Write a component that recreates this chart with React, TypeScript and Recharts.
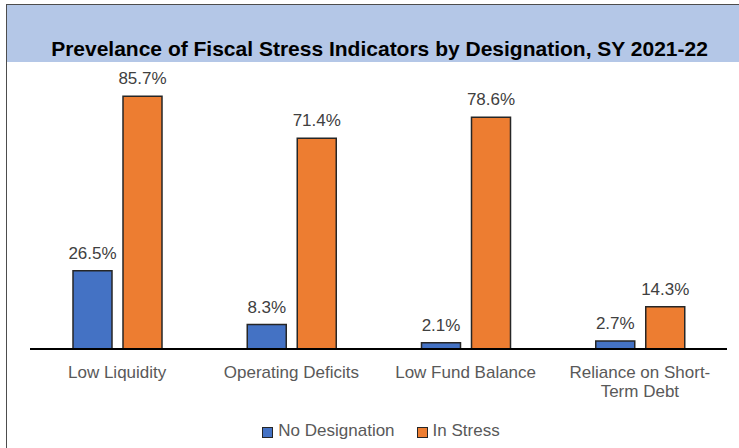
import { BarChart, Bar, XAxis, YAxis, Legend, LabelList } from 'recharts';

const categories = ['Low Liquidity', 'Operating Deficits', 'Low Fund Balance', 'Reliance on Short-Term Debt'];
const noDesignation = [26.5, 8.3, 2.1, 2.7];
const inStress = [85.7, 71.4, 78.6, 14.3];
const seriesNames = ['No Designation', 'In Stress'];

const BLUE = '#4472c4';
const ORANGE = '#ed7d31';
const FONT = '"Liberation Sans", Arial, sans-serif';

const data = categories.map((c, i) => ({
  category: c,
  noDesignation: noDesignation[i],
  inStress: inStress[i],
}));

// long labels break after the hyphen, like the original
function splitLabel(s: string): string[] {
  const h = s.indexOf('-');
  if (s.length > 20 && h > 0) return [s.slice(0, h + 1), s.slice(h + 1)];
  return [s];
}

function CategoryTick({ x, y, payload }: any) {
  const lines = splitLabel(String(payload.value));
  return (
    <text x={x} y={y} textAnchor="middle" fill="#595959" fontSize={17} fontFamily={FONT}>
      {lines.map((l, i) => (
        <tspan key={i} x={x} dy={i === 0 ? 21 : 19}>{l}</tspan>
      ))}
    </text>
  );
}

function LegendBox({ payload }: any) {
  const items = [...(payload || [])].sort(
    (a: any, b: any) => seriesNames.indexOf(a.value) - seriesNames.indexOf(b.value)
  );
  return (
    <div style={{display:'flex', justifyContent:'center', alignItems:'center', height:22, paddingLeft:5, fontFamily:FONT, fontSize:17, color:'#595959'}}>
      {items.map((p: any, i: number) => (
        <div key={i} style={{display:'flex', alignItems:'center', marginLeft: i ? 22 : 0}}>
          <span style={{display:'inline-block', width:9, height:9, background:p.color, border:'1px solid #262626', marginRight:5, marginTop:3}} />
          <span>{p.value}</span>
        </div>
      ))}
    </div>
  );
}

export default function App() {
  return (
    <div style={{position:'absolute', left:0, top:0, width:739, height:448, background:'#fff', overflow:'hidden', fontFamily:FONT}}>
      <div style={{position:'absolute', left:6, top:4, width:760, height:470, borderTop:'1px solid #4d4d4d', borderLeft:'1px solid #4d4d4d'}} />
      <div style={{position:'absolute', left:7, top:5, width:732, height:57, background:'#b4c7e7'}} />
      <div style={{position:'absolute', left:10, top:38, width:739, textAlign:'center', fontSize:21, lineHeight:'21px', fontWeight:700, color:'#000'}}>
        Prevelance of Fiscal Stress Indicators by Designation, SY 2021-22
      </div>
      <div style={{position:'absolute', left:0, top:0}}>
        <BarChart width={739} height={448} data={data} margin={{top:54, right:12, left:30, bottom:6}} barGap={11} barSize={39}>
          <XAxis
            dataKey="category"
            axisLine={{stroke:'#000', strokeWidth:2}}
            tickLine={false}
            interval={0}
            height={71}
            tick={<CategoryTick />}
          />
          <YAxis hide domain={[0, 100]} />
          <Legend verticalAlign="bottom" content={<LegendBox />} />
          <Bar dataKey="noDesignation" name={seriesNames[0]} fill={BLUE} stroke="#262626" strokeWidth={1.5} isAnimationActive={false}>
            <LabelList dataKey="noDesignation" position="top" offset={12} fill="#404040" fontSize={17} fontFamily={FONT} formatter={(v: any) => `${Number(v).toFixed(1)}%`} />
          </Bar>
          <Bar dataKey="inStress" name={seriesNames[1]} fill={ORANGE} stroke="#262626" strokeWidth={1.5} isAnimationActive={false}>
            <LabelList dataKey="inStress" position="top" offset={12} fill="#404040" fontSize={17} fontFamily={FONT} formatter={(v: any) => `${Number(v).toFixed(1)}%`} />
          </Bar>
        </BarChart>
      </div>
    </div>
  );
}
